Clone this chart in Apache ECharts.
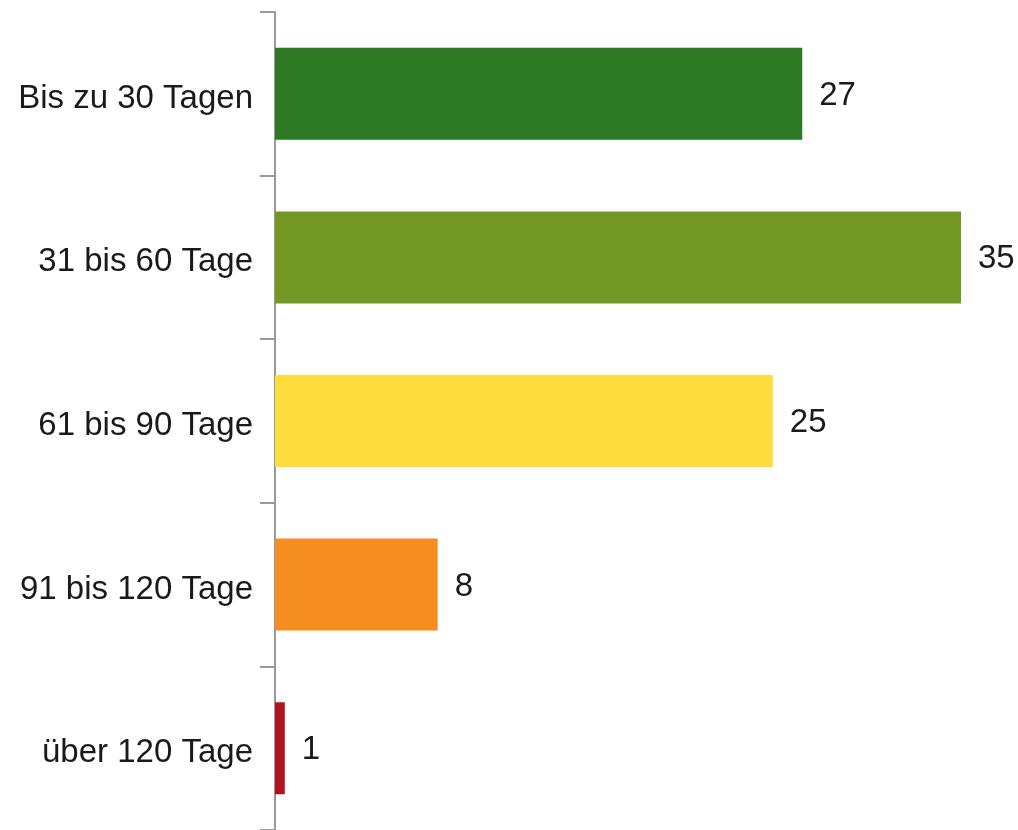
<!DOCTYPE html>
<html><head><meta charset="utf-8">
<script src="https://cdn.jsdelivr.net/npm/echarts@6/dist/echarts.min.js"></script>
<style>html,body{margin:0;padding:0;background:#fff}#c{width:1018px;height:830px}</style>
</head><body><div id="c"></div>
<script>
const categories = ['Bis zu 30 Tagen', '31 bis 60 Tage', '61 bis 90 Tage', '91 bis 120 Tage', 'über 120 Tage'];
const values = [26.9, 35.0, 25.4, 8.3, 0.5];
const colors = ['#2d7823', '#749824', '#fddd3e', '#f68d21', '#b0141e'];

const FONT = 'Arial';
const chart = echarts.init(document.getElementById('c'), null, {renderer: 'canvas'});
chart.setOption({
  animation: false,
  textStyle: {fontFamily: FONT},
  grid: {left: 275, right: 57, top: 12, bottom: 0, containLabel: false},
  xAxis: {type: 'value', min: 0, max: 35, show: false},
  yAxis: {
    type: 'category', data: categories, inverse: true,
    axisLine: {show: true, lineStyle: {color: '#9a9a9a', width: 2}},
    axisTick: {show: true, length: 15, lineStyle: {color: '#9a9a9a', width: 2}},
    axisLabel: {margin: 22, fontSize: 33, color: '#1a1a1a', fontFamily: FONT,
      formatter: v => '{a|' + v + '}',
      rich: {a: {fontSize: 33, color: '#1a1a1a', fontFamily: FONT, padding: [10, 0, 0, 0]}}},
    splitLine: {show: false}
  },
  series: [{
    type: 'bar',
    data: values.map((v, i) => ({value: v, itemStyle: {color: colors[i]}})),
    barWidth: 92,
    label: {show: true, position: 'right', distance: 17, fontSize: 33, color: '#1a1a1a',
      fontFamily: FONT, offset: [0, 2],
      formatter: p => Math.round(p.value)}
  }]
});
</script></body></html>
